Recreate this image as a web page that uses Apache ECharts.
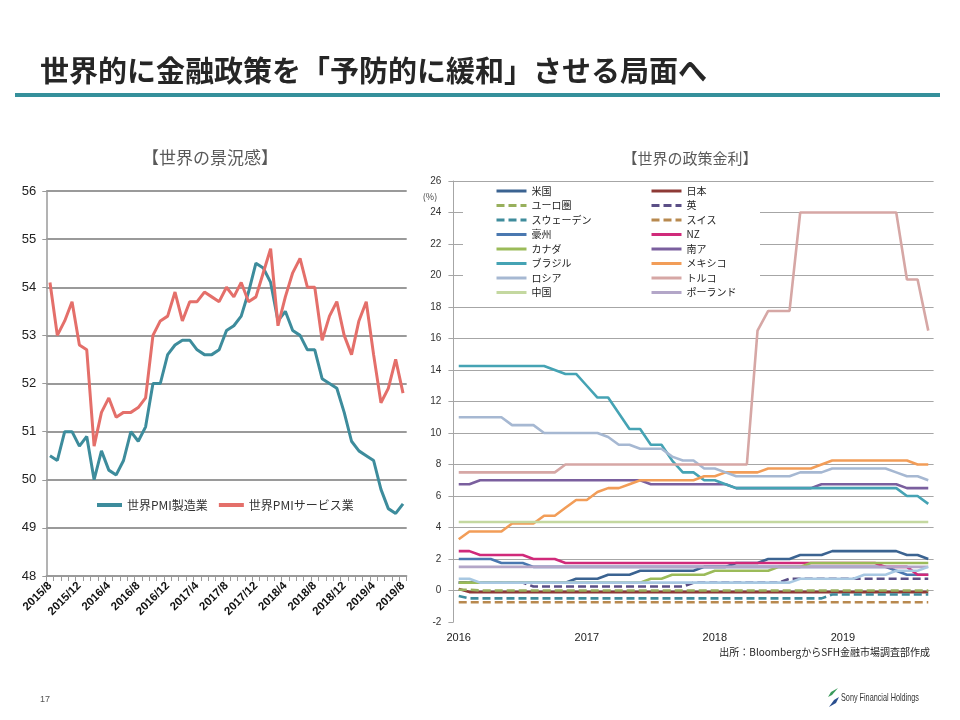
<!DOCTYPE html>
<html><head><meta charset="utf-8">
<script src="https://cdn.jsdelivr.net/npm/echarts@6/dist/echarts.min.js"></script>
<style>html,body{margin:0;padding:0;background:#fff}#c{width:960px;height:720px}</style>
</head><body><div id="c"></div>
<script>
// ---------- Left chart: global PMI ----------
const pmiMonths = ['2015/8','2015/9','2015/10','2015/11','2015/12',
 '2016/1','2016/2','2016/3','2016/4','2016/5','2016/6','2016/7','2016/8','2016/9','2016/10','2016/11','2016/12',
 '2017/1','2017/2','2017/3','2017/4','2017/5','2017/6','2017/7','2017/8','2017/9','2017/10','2017/11','2017/12',
 '2018/1','2018/2','2018/3','2018/4','2018/5','2018/6','2018/7','2018/8','2018/9','2018/10','2018/11','2018/12',
 '2019/1','2019/2','2019/3','2019/4','2019/5','2019/6','2019/7','2019/8'];
const pmiMfg = [50.5,50.4,51.0,51.0,50.7,50.9,50.0,50.6,50.2,50.1,50.4,51.0,50.8,51.1,52.0,52.0,52.6,52.8,52.9,52.9,52.7,52.6,52.6,52.7,53.1,53.2,53.4,53.9,54.5,54.4,54.1,53.3,53.5,53.1,53.0,52.7,52.7,52.1,52.0,51.9,51.4,50.8,50.6,50.5,50.4,49.8,49.4,49.3,49.5];
const pmiSvc = [54.1,53.0,53.3,53.7,52.8,52.7,50.7,51.4,51.7,51.3,51.4,51.4,51.5,51.7,53.0,53.3,53.4,53.9,53.3,53.7,53.7,53.9,53.8,53.7,54.0,53.8,54.1,53.7,53.8,54.3,54.8,53.2,53.8,54.3,54.6,54.0,54.0,52.9,53.4,53.7,53.0,52.6,53.3,53.7,52.6,51.6,51.9,52.5,51.8];
const pmiNames = ['世界PMI製造業','世界PMIサービス業'];

// ---------- Right chart: policy rates (month end) ----------
const rateMonths = ['2016/1','2016/2','2016/3','2016/4','2016/5','2016/6','2016/7','2016/8','2016/9','2016/10','2016/11','2016/12',
 '2017/1','2017/2','2017/3','2017/4','2017/5','2017/6','2017/7','2017/8','2017/9','2017/10','2017/11','2017/12',
 '2018/1','2018/2','2018/3','2018/4','2018/5','2018/6','2018/7','2018/8','2018/9','2018/10','2018/11','2018/12',
 '2019/1','2019/2','2019/3','2019/4','2019/5','2019/6','2019/7','2019/8','2019/9'];
const rateUS      = [0.5,0.5,0.5,0.5,0.5,0.5,0.5,0.5,0.5,0.5,0.5,0.75,0.75,0.75,1,1,1,1.25,1.25,1.25,1.25,1.25,1.25,1.5,1.5,1.5,1.75,1.75,1.75,2,2,2,2.25,2.25,2.25,2.5,2.5,2.5,2.5,2.5,2.5,2.5,2.25,2.25,2];
const rateJapan   = [0.1,-0.1,-0.1,-0.1,-0.1,-0.1,-0.1,-0.1,-0.1,-0.1,-0.1,-0.1,-0.1,-0.1,-0.1,-0.1,-0.1,-0.1,-0.1,-0.1,-0.1,-0.1,-0.1,-0.1,-0.1,-0.1,-0.1,-0.1,-0.1,-0.1,-0.1,-0.1,-0.1,-0.1,-0.1,-0.1,-0.1,-0.1,-0.1,-0.1,-0.1,-0.1,-0.1,-0.1,-0.1];
const rateEuro    = [0.05,0.05,0,0,0,0,0,0,0,0,0,0,0,0,0,0,0,0,0,0,0,0,0,0,0,0,0,0,0,0,0,0,0,0,0,0,0,0,0,0,0,0,0,0,0];
const rateUK      = [0.5,0.5,0.5,0.5,0.5,0.5,0.5,0.25,0.25,0.25,0.25,0.25,0.25,0.25,0.25,0.25,0.25,0.25,0.25,0.25,0.25,0.25,0.5,0.5,0.5,0.5,0.5,0.5,0.5,0.5,0.5,0.75,0.75,0.75,0.75,0.75,0.75,0.75,0.75,0.75,0.75,0.75,0.75,0.75,0.75];
const rateSweden  = [-0.35,-0.5,-0.5,-0.5,-0.5,-0.5,-0.5,-0.5,-0.5,-0.5,-0.5,-0.5,-0.5,-0.5,-0.5,-0.5,-0.5,-0.5,-0.5,-0.5,-0.5,-0.5,-0.5,-0.5,-0.5,-0.5,-0.5,-0.5,-0.5,-0.5,-0.5,-0.5,-0.5,-0.5,-0.5,-0.25,-0.25,-0.25,-0.25,-0.25,-0.25,-0.25,-0.25,-0.25,-0.25];
const rateSwiss   = [-0.75,-0.75,-0.75,-0.75,-0.75,-0.75,-0.75,-0.75,-0.75,-0.75,-0.75,-0.75,-0.75,-0.75,-0.75,-0.75,-0.75,-0.75,-0.75,-0.75,-0.75,-0.75,-0.75,-0.75,-0.75,-0.75,-0.75,-0.75,-0.75,-0.75,-0.75,-0.75,-0.75,-0.75,-0.75,-0.75,-0.75,-0.75,-0.75,-0.75,-0.75,-0.75,-0.75,-0.75,-0.75];
const rateAus     = [2,2,2,2,1.75,1.75,1.75,1.5,1.5,1.5,1.5,1.5,1.5,1.5,1.5,1.5,1.5,1.5,1.5,1.5,1.5,1.5,1.5,1.5,1.5,1.5,1.5,1.5,1.5,1.5,1.5,1.5,1.5,1.5,1.5,1.5,1.5,1.5,1.5,1.5,1.5,1.25,1,1,1];
const rateNZ      = [2.5,2.5,2.25,2.25,2.25,2.25,2.25,2,2,2,1.75,1.75,1.75,1.75,1.75,1.75,1.75,1.75,1.75,1.75,1.75,1.75,1.75,1.75,1.75,1.75,1.75,1.75,1.75,1.75,1.75,1.75,1.75,1.75,1.75,1.75,1.75,1.75,1.75,1.75,1.5,1.5,1.5,1,1];
const rateCanada  = [0.5,0.5,0.5,0.5,0.5,0.5,0.5,0.5,0.5,0.5,0.5,0.5,0.5,0.5,0.5,0.5,0.5,0.5,0.75,0.75,1,1,1,1,1.25,1.25,1.25,1.25,1.25,1.25,1.5,1.5,1.5,1.75,1.75,1.75,1.75,1.75,1.75,1.75,1.75,1.75,1.75,1.75,1.75];
const rateSA      = [6.75,6.75,7,7,7,7,7,7,7,7,7,7,7,7,7,7,7,7,6.75,6.75,6.75,6.75,6.75,6.75,6.75,6.75,6.5,6.5,6.5,6.5,6.5,6.5,6.5,6.5,6.75,6.75,6.75,6.75,6.75,6.75,6.75,6.75,6.5,6.5,6.5];
const rateBrazil  = [14.25,14.25,14.25,14.25,14.25,14.25,14.25,14.25,14.25,14,13.75,13.75,13,12.25,12.25,11.25,10.25,10.25,9.25,9.25,8.25,7.5,7.5,7,7,6.75,6.5,6.5,6.5,6.5,6.5,6.5,6.5,6.5,6.5,6.5,6.5,6.5,6.5,6.5,6.5,6.5,6,6,5.5];
const rateMexico  = [3.25,3.75,3.75,3.75,3.75,4.25,4.25,4.25,4.75,4.75,5.25,5.75,5.75,6.25,6.5,6.5,6.75,7,7,7,7,7,7,7.25,7.25,7.5,7.5,7.5,7.5,7.75,7.75,7.75,7.75,7.75,8,8.25,8.25,8.25,8.25,8.25,8.25,8.25,8.25,8,8];
const rateRussia  = [11,11,11,11,11,10.5,10.5,10.5,10,10,10,10,10,10,9.75,9.25,9.25,9,9,9,8.5,8.25,8.25,7.75,7.75,7.5,7.25,7.25,7.25,7.25,7.25,7.25,7.5,7.5,7.5,7.75,7.75,7.75,7.75,7.75,7.75,7.5,7.25,7.25,7];
const rateTurkey  = [7.5,7.5,7.5,7.5,7.5,7.5,7.5,7.5,7.5,7.5,8,8,8,8,8,8,8,8,8,8,8,8,8,8,8,8,8,8,16.5,17.75,17.75,17.75,24,24,24,24,24,24,24,24,24,24,19.75,19.75,16.5];
const rateChina   = [4.35,4.35,4.35,4.35,4.35,4.35,4.35,4.35,4.35,4.35,4.35,4.35,4.35,4.35,4.35,4.35,4.35,4.35,4.35,4.35,4.35,4.35,4.35,4.35,4.35,4.35,4.35,4.35,4.35,4.35,4.35,4.35,4.35,4.35,4.35,4.35,4.35,4.35,4.35,4.35,4.35,4.35,4.35,4.35,4.35];
const ratePoland  = [1.5,1.5,1.5,1.5,1.5,1.5,1.5,1.5,1.5,1.5,1.5,1.5,1.5,1.5,1.5,1.5,1.5,1.5,1.5,1.5,1.5,1.5,1.5,1.5,1.5,1.5,1.5,1.5,1.5,1.5,1.5,1.5,1.5,1.5,1.5,1.5,1.5,1.5,1.5,1.5,1.5,1.5,1.5,1.5,1.5];
const rateNorway  = [0.75,0.75,0.5,0.5,0.5,0.5,0.5,0.5,0.5,0.5,0.5,0.5,0.5,0.5,0.5,0.5,0.5,0.5,0.5,0.5,0.5,0.5,0.5,0.5,0.5,0.5,0.5,0.5,0.5,0.5,0.5,0.5,0.75,0.75,0.75,0.75,0.75,0.75,1,1,1,1.25,1.25,1.25,1.5];

const legendCol1 = ['米国','ユーロ圏','スウェーデン','豪州','カナダ','ブラジル','ロシア','中国'];
const legendCol2 = ['日本','英','スイス','NZ','南ア','メキシコ','トルコ','ポーランド'];

// series order (draw order) with style
const rateSeries = [
  {name:'米国', data:rateUS, color:'#3b6391', dash:false},
  {name:'日本', data:rateJapan, color:'#8e3a36', dash:false},
  {name:'ユーロ圏', data:rateEuro, color:'#98b05c', dash:true},
  {name:'英', data:rateUK, color:'#5b4f86', dash:true},
  {name:'スウェーデン', data:rateSweden, color:'#3f8c9c', dash:true},
  {name:'スイス', data:rateSwiss, color:'#b8894f', dash:true},
  {name:'豪州', data:rateAus, color:'#4a78b0', dash:false},
  {name:'NZ', data:rateNZ, color:'#d02a7a', dash:false},
  {name:'カナダ', data:rateCanada, color:'#9bbb59', dash:false},
  {name:'南ア', data:rateSA, color:'#7a5f9e', dash:false},
  {name:'ブラジル', data:rateBrazil, color:'#45a3b4', dash:false},
  {name:'メキシコ', data:rateMexico, color:'#f29d58', dash:false},
  {name:'ロシア', data:rateRussia, color:'#a6b8d2', dash:false},
  {name:'トルコ', data:rateTurkey, color:'#d6a7a5', dash:false},
  {name:'中国', data:rateChina, color:'#c4d8a0', dash:false},
  {name:'ポーランド', data:ratePoland, color:'#b3a6c8', dash:false},
  {name:'ノルウェー', data:rateNorway, color:'#a8c8e2', dash:false}
];

const narrow = "'Liberation Sans Narrow','Liberation Sans',Arial,sans-serif";
const jp = "'Noto Sans CJK JP','Noto Sans',sans-serif";

const chart = echarts.init(document.getElementById('c'), null, {renderer:'canvas'});

const series = [
  {name:pmiNames[0], type:'line', xAxisIndex:0, yAxisIndex:0, data:pmiMfg, symbol:'none',
   lineStyle:{color:'#3d8c9c', width:3}, itemStyle:{color:'#3d8c9c'}},
  {name:pmiNames[1], type:'line', xAxisIndex:0, yAxisIndex:0, data:pmiSvc, symbol:'none',
   lineStyle:{color:'#e46f6a', width:3}, itemStyle:{color:'#e46f6a'}}
];
rateSeries.forEach(s => {
  series.push({name:s.name, type:'line', xAxisIndex:1, yAxisIndex:1, data:s.data, symbol:'none',
    lineStyle:{color:s.color, width:2.6, type: s.dash ? [8,4] : 'solid'}, itemStyle:{color:s.color}});
});

const rateLegend = (data, left) => ({
  data: data, orient:'vertical', left:left, top:185, padding:0, z:150,
  itemWidth:30, itemHeight:12, itemGap:2.5,
  itemStyle:{opacity:0}, lineStyle:{width:3},
  textStyle:{fontSize:10, lineHeight:12, color:'#222', fontFamily:jp}
});

chart.setOption({
  animation:false,
  backgroundColor:'#fff',
  grid:[
    {left:46.3, top:191, width:360.4, height:385},
    {left:453.4, top:181, width:480.2, height:441}
  ],
  xAxis:[
    {gridIndex:0, type:'category', data:pmiMonths, boundaryGap:true,
     axisLine:{show:true, lineStyle:{color:'#9a9a9a', width:1.5}},
     axisTick:{show:true, interval:0, length:5, lineStyle:{color:'#9a9a9a'}},
     axisLabel:{interval:3, rotate:45, fontSize:11.5, fontWeight:'bold', color:'#111', margin:8, fontFamily:narrow},
     splitLine:{show:false}},
    {gridIndex:1, type:'category', data:rateMonths, boundaryGap:true,
     axisLine:{show:false}, axisTick:{show:false},
     axisLabel:{interval:11, formatter:v=>v.split('/')[0], fontSize:11, color:'#222', margin:10, fontFamily:"'Liberation Sans',Arial,sans-serif"},
     splitLine:{show:false}}
  ],
  yAxis:[
    {gridIndex:0, type:'value', min:48, max:56, interval:1,
     axisLine:{show:true, lineStyle:{color:'#9a9a9a', width:1.5}},
     axisTick:{show:true, length:4, lineStyle:{color:'#9a9a9a'}},
     axisLabel:{fontSize:13, color:'#222', margin:10, fontFamily:narrow},
     splitLine:{show:true, lineStyle:{color:'#9a9a9a', width:2}}},
    {gridIndex:1, type:'value', min:-2, max:26, interval:2,
     axisLine:{show:true, lineStyle:{color:'#a6a6a6', width:1}},
     axisTick:{show:true, length:5, lineStyle:{color:'#a6a6a6'}},
     axisLabel:{fontSize:10, color:'#333', margin:12, fontFamily:"'Liberation Sans',Arial,sans-serif"},
     splitLine:{show:true, showMinLine:false, lineStyle:{color:'#a6a6a6', width:1}}}
  ],
  legend:[
    {data:pmiNames, orient:'horizontal', left:95, top:499, padding:0, itemWidth:25, itemHeight:12, itemGap:9,
     itemStyle:{opacity:0}, lineStyle:{width:4},
     textStyle:{fontSize:12, color:'#333', fontFamily:jp}},
    rateLegend(legendCol1, 495),
    rateLegend(legendCol2, 650)
  ],
  graphic:[
    {type:'rect', z:100, shape:{x:463, y:184, width:297, height:116}, style:{fill:'#ffffff'}},
    {type:'rect', z:100, shape:{x:15, y:93, width:925, height:4}, style:{fill:'#35909b'}},
    {type:'text', z:100, x:40, y:71, style:{text:'世界的に金融政策を「予防的に緩和」させる局面へ', font:'bold 29px '+jp, fill:'#262626', verticalAlign:'middle', textVerticalAlign:'middle'}},
    {type:'text', z:100, x:210, y:158, style:{text:'【世界の景況感】', font:'17px '+jp, fill:'#595959', align:'center', textAlign:'center', verticalAlign:'middle', textVerticalAlign:'middle'}},
    {type:'text', z:100, x:690, y:158, style:{text:'【世界の政策金利】', font:'15px '+jp, fill:'#595959', align:'center', textAlign:'center', verticalAlign:'middle', textVerticalAlign:'middle'}},
    {type:'text', z:100, x:430, y:197, style:{text:'(%)', font:'9px '+jp, fill:'#444', align:'center', textAlign:'center', verticalAlign:'middle', textVerticalAlign:'middle'}},
    {type:'text', z:100, x:930, y:652, style:{text:'出所：BloombergからSFH金融市場調査部作成', font:'10px '+jp, fill:'#222', align:'right', textAlign:'right', verticalAlign:'middle', textVerticalAlign:'middle'}},
    {type:'text', z:100, x:40, y:700, style:{text:'17', font:'9px '+narrow, fill:'#555', verticalAlign:'middle', textVerticalAlign:'middle'}},
    {type:'text', z:100, x:841, y:698, scaleX:0.66, style:{text:'Sony Financial Holdings', font:'11px '+narrow, fill:'#333', verticalAlign:'middle', textVerticalAlign:'middle'}},
    {type:'polygon', z:100, shape:{points:[[838,688],[831,692],[828,697],[832,695]]}, style:{fill:'#3a9a5a'}},
    {type:'polygon', z:100, shape:{points:[[829,707],[836,703],[839,697],[834,700]]}, style:{fill:'#2a4f8f'}}
  ],
  series: series
});
</script>
</body></html>
